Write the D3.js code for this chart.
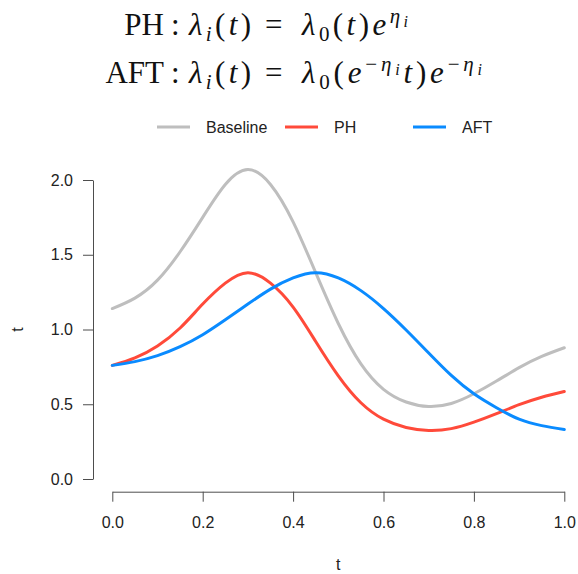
<!DOCTYPE html>
<html>
<head>
<meta charset="utf-8">
<script src="https://cdn.jsdelivr.net/npm/d3@7/dist/d3.min.js"></script>
<style>
  body { margin: 0; background: #fff; }
  text { font-family: "Liberation Sans", Arial, sans-serif; }
</style>
</head>
<body>
<div id="chart"></div>
<script>
// values
const times    = [0, 0.05, 0.1, 0.15, 0.2, 0.25, 0.3, 0.35, 0.4, 0.45, 0.5, 0.55, 0.6, 0.65, 0.7, 0.75, 0.8, 0.85, 0.9, 0.95, 1.0];
const baseline = [1.14, 1.21, 1.33, 1.52, 1.75, 1.97, 2.07, 1.97, 1.72, 1.38, 1.04, 0.77, 0.60, 0.515, 0.485, 0.505, 0.57, 0.655, 0.745, 0.82, 0.878];
const ph       = [0.76, 0.81, 0.89, 1.01, 1.17, 1.31, 1.38, 1.31, 1.15, 0.92, 0.69, 0.51, 0.40, 0.345, 0.325, 0.337, 0.38, 0.437, 0.497, 0.547, 0.585];
const aft      = [0.76, 0.785, 0.825, 0.885, 0.965, 1.065, 1.17, 1.27, 1.345, 1.38, 1.345, 1.26, 1.14, 0.997, 0.843, 0.693, 0.57, 0.477, 0.40, 0.357, 0.331];

const seriesNames  = ["Baseline", "PH", "AFT"];
const seriesColors = ["#BEBEBE", "#FF4A3A", "#0A8BFF"];
const xTicks = [0, 0.2, 0.4, 0.6, 0.8, 1.0];
const yTicks = [0, 0.5, 1.0, 1.5, 2.0];

const config = {
  width: 578,
  height: 574,
  xRange: [112.3, 564.3],
  yRange: [479, 180],
  xAxisY: 491.7,
  yAxisX: 93,
  axisColor: "#4d4d4d",
  lineWidth: 3
};

const svg = d3.select("#chart").append("svg")
  .attr("width", config.width)
  .attr("height", config.height);

const x = d3.scaleLinear().domain([0, 1]).range(config.xRange);
const y = d3.scaleLinear().domain([0, 2]).range(config.yRange);

// ---- title (math) ----
const mathFont = "'Liberation Serif', 'DejaVu Serif', serif";
const sizes = { n: 31, sub: 21, sup: 21, supsub: 16 };
const offsets = { n: 0, sub: 6, sup: -12, supsub: -8 };

function mathText(xPos, yBase, anchor, parts, len) {
  const t = svg.append("text")
    .attr("x", xPos)
    .attr("y", yBase)
    .attr("text-anchor", anchor)
    .style("font-family", mathFont)
    .attr("fill", "#111");
  if (len) t.attr("textLength", len).attr("lengthAdjust", "spacing");
  let cur = 0;
  parts.forEach(([s, kind, italic]) => {
    const off = offsets[kind];
    t.append("tspan")
      .attr("dy", off - cur)
      .style("font-size", sizes[kind] + "px")
      .style("font-style", italic ? "italic" : "normal")
      .style("font-family", mathFont)
      .text(s);
    cur = off;
  });
  return t;
}

const lhs = [["λ", "n", true], ["i", "sub", true], ["(", "n", false], ["t", "n", true], [")", "n", false]];

// line 1
mathText(164, 35, "end", [["PH", "n", false]]);
mathText(171, 35, "start", [[":", "n", false]]);
mathText(189, 35, "start", lhs, 62);
mathText(265, 35, "start", [["=", "n", false]]);
mathText(302, 35, "start", [
  ["λ", "n", true], ["0", "sub", false], ["(", "n", false], ["t", "n", true], [")", "n", false],
  ["e", "n", true], ["η", "sup", true], ["i", "supsub", true]
], 106);

// line 2
mathText(164, 83, "end", [["AFT", "n", false]]);
mathText(171, 83, "start", [[":", "n", false]]);
mathText(189, 83, "start", lhs, 62);
mathText(265, 83, "start", [["=", "n", false]]);
mathText(302, 83, "start", [
  ["λ", "n", true], ["0", "sub", false], ["(", "n", false], ["e", "n", true],
  ["−", "sup", false], ["η", "sup", true], ["i", "supsub", true],
  ["t", "n", true], [")", "n", false],
  ["e", "n", true], ["−", "sup", false], ["η", "sup", true], ["i", "supsub", true]
], 180);

// ---- legend ----
const legendX = [157, 285, 413];
const legend = svg.append("g").attr("class", "legend");
seriesNames.forEach((name, i) => {
  legend.append("line")
    .attr("x1", legendX[i]).attr("x2", legendX[i] + 33)
    .attr("y1", 127).attr("y2", 127)
    .attr("stroke", seriesColors[i])
    .attr("stroke-width", config.lineWidth);
  legend.append("text")
    .attr("x", legendX[i] + 49)
    .attr("y", 133)
    .style("font-size", "16px")
    .attr("fill", "#222")
    .text(name);
});

// ---- axes ----
const xAxis = d3.axisBottom(x)
  .tickValues(xTicks)
  .tickFormat(d3.format(".1f"))
  .tickSize(10)
  .tickSizeOuter(0)
  .tickPadding(15);

const yAxis = d3.axisLeft(y)
  .tickValues(yTicks)
  .tickFormat(d3.format(".1f"))
  .tickSize(10)
  .tickSizeOuter(0)
  .tickPadding(10);

const xg = svg.append("g")
  .attr("transform", `translate(0,${config.xAxisY})`)
  .call(xAxis);
const yg = svg.append("g")
  .attr("transform", `translate(${config.yAxisX},0)`)
  .call(yAxis);

[xg, yg].forEach(g => {
  g.select(".domain").attr("stroke", config.axisColor);
  g.selectAll(".tick line").attr("stroke", config.axisColor);
  g.selectAll(".tick text")
    .attr("fill", "#222")
    .style("font-size", "16px")
    .style("font-family", "'Liberation Sans', Arial, sans-serif");
});

// axis titles
svg.append("text")
  .attr("x", (config.xRange[0] + config.xRange[1]) / 2)
  .attr("y", 570)
  .attr("text-anchor", "middle")
  .style("font-size", "16px")
  .attr("fill", "#222")
  .text("t");

svg.append("text")
  .attr("transform", `translate(23,${(config.yRange[0] + config.yRange[1]) / 2}) rotate(-90)`)
  .attr("text-anchor", "middle")
  .style("font-size", "16px")
  .attr("fill", "#222")
  .text("t");

// ---- lines ----
const line = d3.line()
  .x((d, i) => x(times[i]))
  .y(d => y(d))
  .curve(d3.curveNatural);

[baseline, ph, aft].forEach((series, i) => {
  svg.append("path")
    .datum(series)
    .attr("fill", "none")
    .attr("stroke", seriesColors[i])
    .attr("stroke-width", config.lineWidth)
    .attr("stroke-linecap", "round")
    .attr("d", line);
});
</script>
</body>
</html>
